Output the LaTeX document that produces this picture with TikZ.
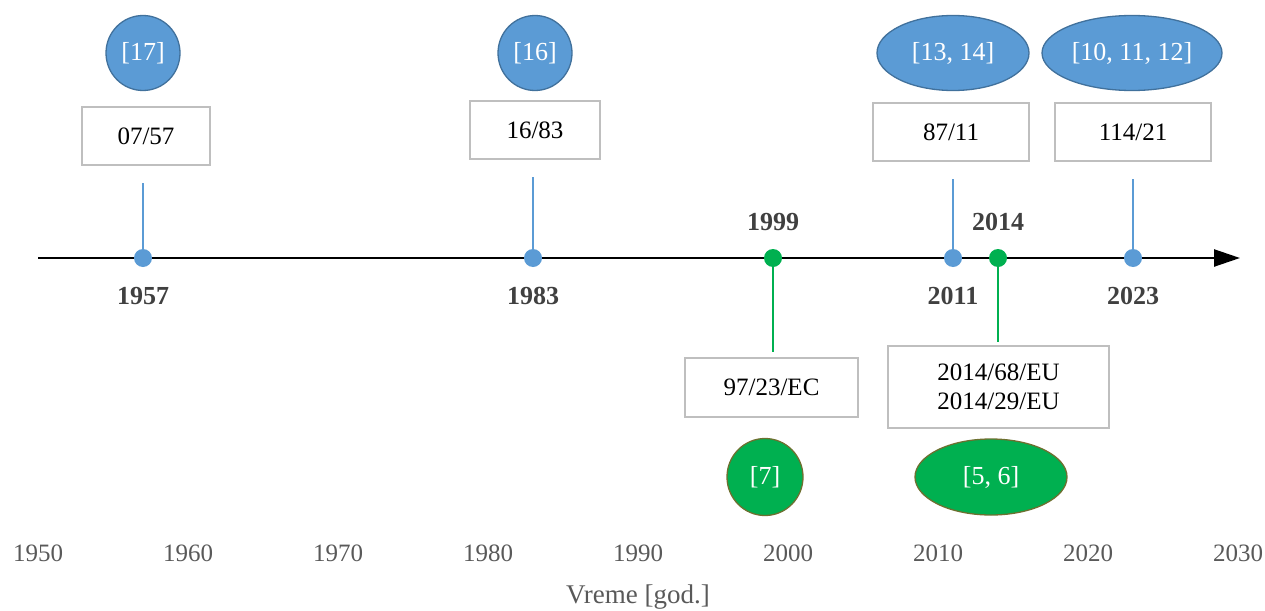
\documentclass[tikz,border=0pt]{standalone}
\usepackage{fontspec}
\setmainfont{Liberation Serif}
\usetikzlibrary{shapes.geometric,arrows.meta}

\definecolor{evblue}{HTML}{5B9BD5}
\definecolor{evblueedge}{HTML}{41719C}
\definecolor{evgreen}{HTML}{00B050}
\definecolor{evgreenedge}{HTML}{6D7030}
\definecolor{boxgray}{HTML}{BFBFBF}
\definecolor{yeargray}{HTML}{404040}
\definecolor{tickgray}{HTML}{595959}

\begin{document}
\begin{tikzpicture}[x=1pt, y=-1pt,
  dirbox/.style={draw=boxgray, line width=1.8pt, fill=white, inner sep=0pt, align=center,
    font=\fontsize{25}{29}\selectfont},
  refblue/.style={ellipse, draw=evblueedge, line width=1.3pt, fill=evblue, text=white,
    inner sep=0pt, font=\fontsize{26}{30}\selectfont},
  refgreen/.style={ellipse, draw=evgreenedge, line width=1.3pt, fill=evgreen, text=white,
    inner sep=0pt, font=\fontsize{26}{30}\selectfont},
  dotblue/.style={circle, fill=evblue, minimum size=18pt, inner sep=0pt},
  dotgreen/.style={circle, fill=evgreen, minimum size=18pt, inner sep=0pt},
  yearlbl/.style={font=\bfseries\fontsize{26}{30}\selectfont, text=yeargray},
  ticklbl/.style={font=\fontsize{25}{29}\selectfont, text=tickgray}]
  \def\ay{258}

  \useasboundingbox (0,0) rectangle (1265,610);

  % time axis
  \coordinate (ax0) at (38,\ay);
  \coordinate (ax1) at (1240,\ay);
  \draw[line width=2.4pt, -{Triangle[length=26pt, width=17pt]}] (ax0) -- (ax1);

  % scale 1950..2030, 15 px per year
  \foreach \yr in {1950,1960,...,2030} {
    \node[ticklbl] (t\yr) at ({38+(\yr-1950)*15},553) {\yr};
  }
  \node[font=\fontsize{27}{31}\selectfont, text=tickgray] (xlabel) at (638,597) {Vreme [god.]};

  % blue events: year / box x / box y / box w / box text / ref x / ref w / ref text
  \foreach \yr/\bx/\by/\bw/\btxt/\rx/\rw/\rtxt in {
      1957/146/136/128/07\slash 57/143/74/{[17]},
      1983/535/130/130/16\slash 83/535/74/{[16]},
      2011/951/132/156/87\slash 11/953/152/{[13, 14]},
      2023/1133/132/156/114\slash 21/1132/180/{[10, 11, 12]}} {
    \node[dotblue] (d\yr) at ({38+(\yr-1950)*15},\ay) {};
    \node[yearlbl] (y\yr) at ({38+(\yr-1950)*15},296) {\yr};
    \node[dirbox, minimum width=\bw pt, minimum height=58pt] (b\yr) at (\bx,\by) {\btxt};
    \node[refblue, minimum width=\rw pt, minimum height=75pt] (r\yr) at (\rx,53) {\rtxt};
    \draw[evblue, line width=1.1pt, shorten >=17pt] (d\yr.center) -- (d\yr |- b\yr.south);
  }

  % green events: 1999
  \node[dotgreen] (d1999) at (773,\ay) {};
  \node[yearlbl] (y1999) at (773,222) {1999};
  \node[dirbox, minimum width=173pt, minimum height=59pt] (b1999) at (771.5,387.5) {97/23/EC};
  \node[refgreen, minimum width=76pt, minimum height=77pt] (r1999) at (765,477) {[7]};
  \draw[evgreen, line width=1.1pt, shorten >=5pt] (d1999.center) -- (d1999 |- b1999.north);

  % green events: 2014
  \node[dotgreen] (d2014) at (998,\ay) {};
  \node[yearlbl] (y2014) at (998,222) {2014};
  \node[dirbox, minimum width=221pt, minimum height=82pt] (b2014) at (998.5,387)
    {2014/68/EU\\2014/29/EU};
  \node[refgreen, minimum width=152pt, minimum height=76pt] (r2014) at (991,477) {[5, 6]};
  \draw[evgreen, line width=1.1pt, shorten >=3pt] (d2014.center) -- (d2014 |- b2014.north);
\end{tikzpicture}
\end{document}
